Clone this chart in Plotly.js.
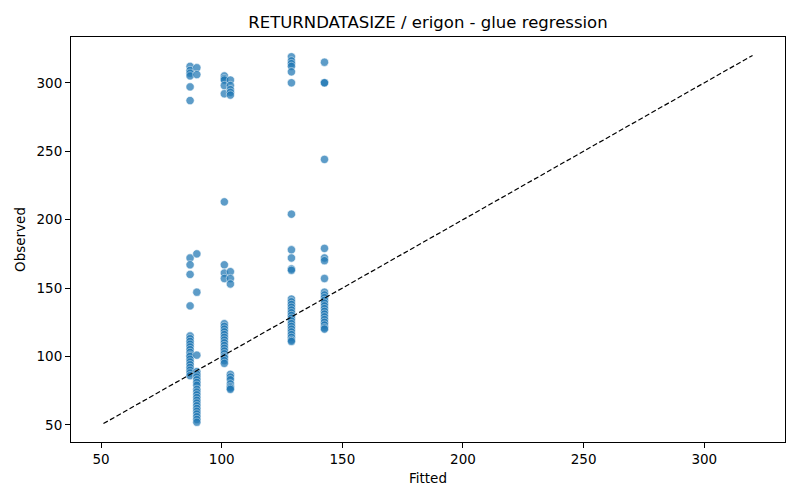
<!DOCTYPE html>
<html>
<head>
<meta charset="utf-8">
<script src="https://cdn.plot.ly/plotly-3.0.1.min.js"></script>
<style>html,body{margin:0;padding:0;background:#fff}#chart{width:800px;height:500px}</style>
</head>
<body>
<div id="chart"></div>
<script>
// Fitted value of each group (x) and the observed values (y) at that fitted value
var fittedLevels = [86.9, 89.7, 101.1, 103.6, 128.9, 142.6];
var observedA = [312, 309, 307, 305, 297, 287, 172, 167, 160, 137, 115, 113, 111, 109, 107, 105, 103, 101, 100, 98, 96, 94, 92, 90, 88, 86];
var observedB = [311, 306, 175, 147, 101, 89, 87, 85, 83, 81, 79, 76, 74, 72, 70, 68, 66, 64, 62, 60, 58, 56, 54, 52];
var observedC = [305, 303, 302, 298, 292, 213, 167, 161, 157, 124, 122, 120, 118, 116, 114, 112, 110, 108, 106, 104, 102, 100, 99, 97, 95];
var observedD = [302, 298, 295, 293, 291, 162, 157, 153, 87, 85, 83, 80, 78, 77, 76];
var observedE = [319, 316, 314, 312, 308, 300, 204, 178, 172, 164, 163, 142, 140, 138, 136, 134, 132, 130, 128, 126, 124, 122, 120, 118, 116, 114, 112, 111];
var observedF = [315, 300, 300, 244, 179, 172, 170, 157, 147, 145, 143, 141, 139, 137, 135, 133, 131, 129, 127, 125, 123, 121, 120];
var refLine = [51, 320];

var groups = [observedA, observedB, observedC, observedD, observedE, observedF];
var xs = [], ys = [];
groups.forEach(function (g, i) {
  g.forEach(function (v) { xs.push(fittedLevels[i]); ys.push(v); });
});

var font = "DejaVu Sans, Liberation Sans, sans-serif";
var traces = [
  {
    x: xs, y: ys, type: 'scatter', mode: 'markers',
    marker: {size: 8.3, color: '#1f77b4', opacity: 0.72, line: {color: '#ffffff', width: 0.6}},
    hoverinfo: 'x+y', showlegend: false
  },
  {
    x: refLine, y: refLine, type: 'scatter', mode: 'lines',
    line: {color: '#000000', width: 1.2, dash: '5px,2.5px'},
    hoverinfo: 'skip', showlegend: false
  }
];

var axisCommon = {
  showline: true, mirror: true, linecolor: '#000', linewidth: 1,
  ticks: 'outside', ticklen: 5, tickwidth: 1, tickcolor: '#000',
  showgrid: false, zeroline: false,
  tickfont: {family: font, size: 13.5, color: '#000'},
  tickvals: [50, 100, 150, 200, 250, 300]
};

var layout = {
  width: 800, height: 500,
  margin: {l: 71, r: 15, t: 37, b: 58},
  paper_bgcolor: '#fff', plot_bgcolor: '#fff',
  title: {text: 'RETURNDATASIZE / erigon - glue regression', font: {family: font, size: 16.5, color: '#000'}, x: 0.535, xanchor: 'center', y: 0.955, yanchor: 'middle'},
  xaxis: Object.assign({}, axisCommon, {range: [37.55, 333.45], title: {text: 'Fitted', font: {family: font, size: 13.5, color: '#000'}, standoff: 7}}),
  yaxis: Object.assign({}, axisCommon, {range: [37.55, 333.45], title: {text: 'Observed', font: {family: font, size: 13.5, color: '#000'}, standoff: 7}})
};

Plotly.newPlot('chart', traces, layout, {displayModeBar: false, staticPlot: true});
</script>
</body>
</html>
